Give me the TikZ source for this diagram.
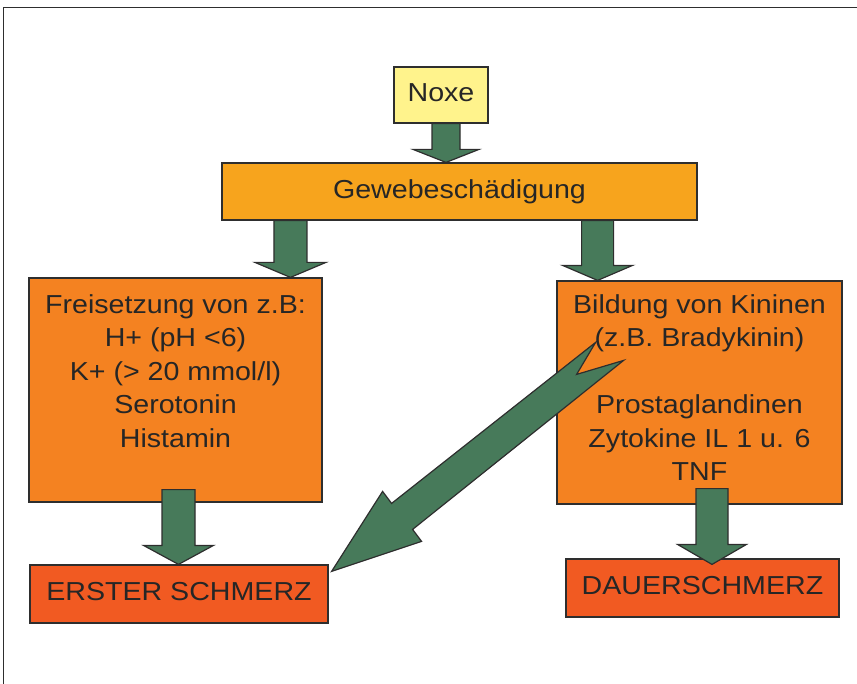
\documentclass[tikz,border=0pt]{standalone}
\usepackage{fontspec}
\setmainfont[FakeStretch=1.1]{Liberation Sans}
\usetikzlibrary{calc,positioning}
\definecolor{gelb}{HTML}{FFF38C}
\definecolor{hellorange}{HTML}{F7A41D}
\definecolor{mittelorange}{HTML}{F48221}
\definecolor{rotorange}{HTML}{F15A22}
\definecolor{gruen}{HTML}{477A5A}
\definecolor{rand}{HTML}{2E2E2E}
\newcommand{\blockpfeil}[5]{%
  \draw[pfeil] let \p1=(#1), \p2=(#2) in
   (\x1-#3bp,\y1) -- (\x1-#3bp,\y2+#5bp) -- (\x1-#4bp,\y2+#5bp) -- (\x1,\y2)
   -- (\x1+#4bp,\y2+#5bp) -- (\x1+#3bp,\y2+#5bp) -- (\x1+#3bp,\y1) -- cycle;}
\begin{document}
\begin{tikzpicture}[x=1bp,y=-1bp,
   font=\fontsize{26bp}{33.5bp}\selectfont, text=black!85,
   kasten/.style={draw=rand, line width=1.2bp, inner sep=0pt,
     text height=19bp, text depth=5.5bp},
   pfeil/.style={draw=rand, line width=1.2bp, fill=gruen}]
   \useasboundingbox (0,0) rectangle (857,684);
   \draw[rand, line width=1bp] (3,684) -- (3,8) -- (857,8);

   \node[kasten, fill=gelb, minimum width=94bp, minimum height=56bp] (noxe) at (441,95) {Noxe};
   \node[kasten, fill=hellorange, minimum width=475bp, minimum height=57bp] (gewebe) at (459.5,191.5) {Gewebeschädigung};
   \node[kasten, fill=mittelorange, minimum width=293bp, minimum height=224bp] (links) at (175.5,390) {};
   \node[kasten, fill=mittelorange, minimum width=285bp, minimum height=223bp] (rechts) at (699.5,392.5) {};
   \node[kasten, fill=rotorange, minimum width=298bp, minimum height=58bp] (erster) at (179,594) {ERSTER SCHMERZ};
   \node[kasten, fill=rotorange, minimum width=273bp, minimum height=58bp] (dauer) at (702.5,588) {DAUERSCHMERZ};

   \node[align=center, inner sep=0pt, below=17bp of links.north] (freisetzung)
     {Freisetzung von z.B:\\H+ (pH <6)\\K+ (> 20 mmol/l)\\Serotonin\\Histamin};

   \blockpfeil{$(noxe.south)+(5,0)$}{gewebe.north}{14}{33}{13}
   \blockpfeil{$(gewebe.south west)!.145!(gewebe.south east)$}{links.north}{16.5}{35.5}{15}
   \blockpfeil{$(gewebe.south west)!.79!(gewebe.south east)$}{rechts.north}{16}{35}{15}
   \blockpfeil{$(links.south)+(3,-13)$}{erster.north}{16.5}{35}{19}
   \blockpfeil{$(rechts.south)+(12.5,-16)$}{$(dauer.north)+(0,6)$}{16}{34.5}{20}

   \coordinate (spitze) at ($(erster.north east)+(3,7)$);
   \draw[pfeil] (spitze) -- ($(spitze)+(51,-80)$) -- ($(spitze)+(60,-68)$)
     -- ($(spitze)+(264,-229)$) -- ($(spitze)+(245,-197)$) -- ($(spitze)+(292,-211)$)
     -- ($(spitze)+(81,-42)$) -- ($(spitze)+(90,-30)$) -- cycle;

   \node[align=center, inner sep=0pt, below=14bp of rechts.north] (kinine)
     {Bildung von Kininen\\(z.B. Bradykinin)\\[33.5bp]Prostaglandinen\\Zytokine IL 1 u. 6\\TNF};
\end{tikzpicture}
\end{document}
